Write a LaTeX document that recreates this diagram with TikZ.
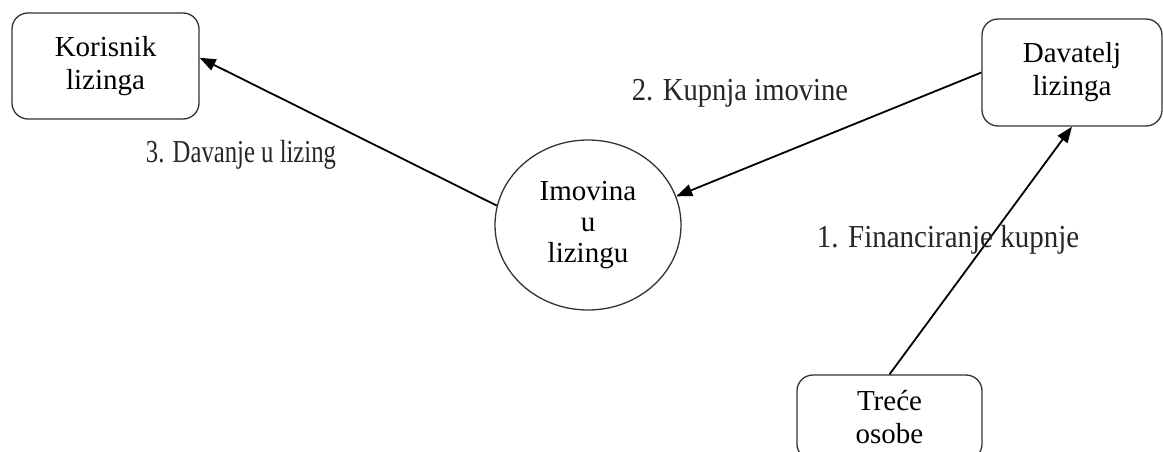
\documentclass[tikz,border=0pt]{standalone}
\usepackage{fontspec}
\setmainfont{Liberation Serif}
\usetikzlibrary{shapes.geometric,arrows.meta,calc}
\begin{document}
\begin{tikzpicture}[x=1pt,y=-1pt,
  box/.style={draw=black!80, line width=1.3pt, rounded corners=16pt, inner sep=0pt, align=center, font=\fontsize{29}{33}\selectfont},
  asset/.style={draw=black!80, line width=1.3pt, ellipse, inner sep=0pt, minimum width=186pt, minimum height=170pt, align=center, font=\fontsize{29}{31}\selectfont},
  flow/.style={line width=1.8pt, -{Triangle[length=16pt,width=12pt]}},
  lbl/.style={anchor=base, inner sep=0pt, font=\fontsize{32}{36}\selectfont, text=black!85}]
\useasboundingbox (0,0) rectangle (1163,452);
\clip (0,0) rectangle (1163,452);
\node[box, minimum width=187pt, minimum height=106pt] (kor) at (105.5,66) {Korisnik\\lizinga};
\node[box, minimum width=180pt, minimum height=107pt] (dav) at (1072,72.5) {Davatelj\\lizinga};
\node[box, minimum width=185pt, minimum height=85pt] (tre) at (889.5,417.5) {Treće\\osobe};
\node[asset] (circ) at (588,225) {Imovina\\u\\lizingu};
\draw[flow] (circ.168) -- (kor.5.5);
\draw[flow] (dav.west) -- (circ.18);
\draw[flow] (tre.north) -- (dav.south);
\node[lbl] (l3) at (241,162) {\scalebox{0.772}[1]{3. Davanje u lizing}};
\node[lbl] (l2) at (740,101) {\scalebox{0.895}[1]{2. Kupnja imovine}};
\node[lbl] (l1) at (948,247) {\scalebox{0.906}[1]{1. Financiranje kupnje}};
\end{tikzpicture}
\end{document}
